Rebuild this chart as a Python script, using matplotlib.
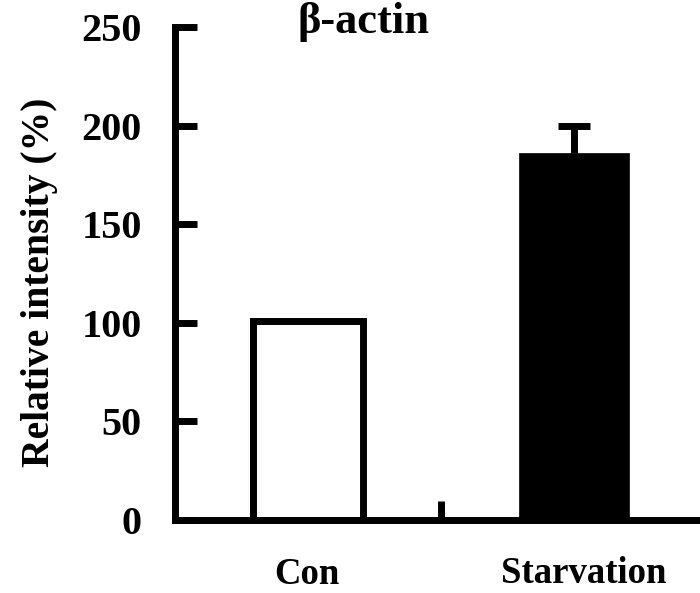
import numpy as np
import matplotlib.pyplot as plt

# --- Data ---
categories = ["Con", "Starvation"]
values = [101, 186]
errors = [0, 14]
face_colors = ["white", "black"]
edge_widths = [5, 0.5]
y_ticks = [0, 50, 100, 150, 200, 250]

plt.rcParams['font.family'] = ['Liberation Serif', 'DejaVu Serif']
plt.rcParams['font.weight'] = 'bold'

fig = plt.figure(figsize=(7, 5.93), dpi=100)
# axes runs past the right edge, like the cropped original
ax = fig.add_axes([175 / 700, (593 - 520) / 593, 532 / 700, 493 / 593])

x = np.arange(len(categories)) + 0.5
ax.bar(x, values, width=0.41, color=face_colors, edgecolor="black",
       linewidth=edge_widths, zorder=2)

# upper-only error bar (stem + cap)
for xi, v, e in zip(x, values, errors):
    if e > 0:
        ax.vlines(xi, v, v + e, color="black", linewidth=5, zorder=3)
        ax.hlines(v + e, xi - 0.06, xi + 0.06, color="black", linewidth=5, zorder=3)

ax.set_xlim(0, 2)
ax.set_ylim(0, 250)
ax.set_yticks(y_ticks)
ax.set_yticklabels([str(v) for v in y_ticks], fontsize=29, fontweight="bold")
ax.set_xticks([1])
ax.set_xticklabels([""])
ax.tick_params(axis="y", direction="in", length=16, width=5, pad=24)
ax.tick_params(axis="x", direction="in", length=14, width=5)

# category labels sit below the axis
ax.text(0.496, -32.5, categories[0], ha="center", va="baseline", fontsize=26.5, fontweight="bold")
ax.text(1.536, -32, categories[1], ha="center", va="baseline", fontsize=26.5, fontweight="bold")

for side in ["top", "right"]:
    ax.spines[side].set_visible(False)
for side in ["left", "bottom"]:
    ax.spines[side].set_linewidth(5)

ax.set_ylabel("Relative intensity (%)", fontsize=28.5, fontweight="bold")
ax.yaxis.set_label_coords(-0.22, 0.483)
fig.text(363 / 700, 1 - 33 / 593, "β-actin", ha="center", va="baseline",
         fontsize=32, fontweight="bold")

fig.savefig("out.png", dpi=100)
